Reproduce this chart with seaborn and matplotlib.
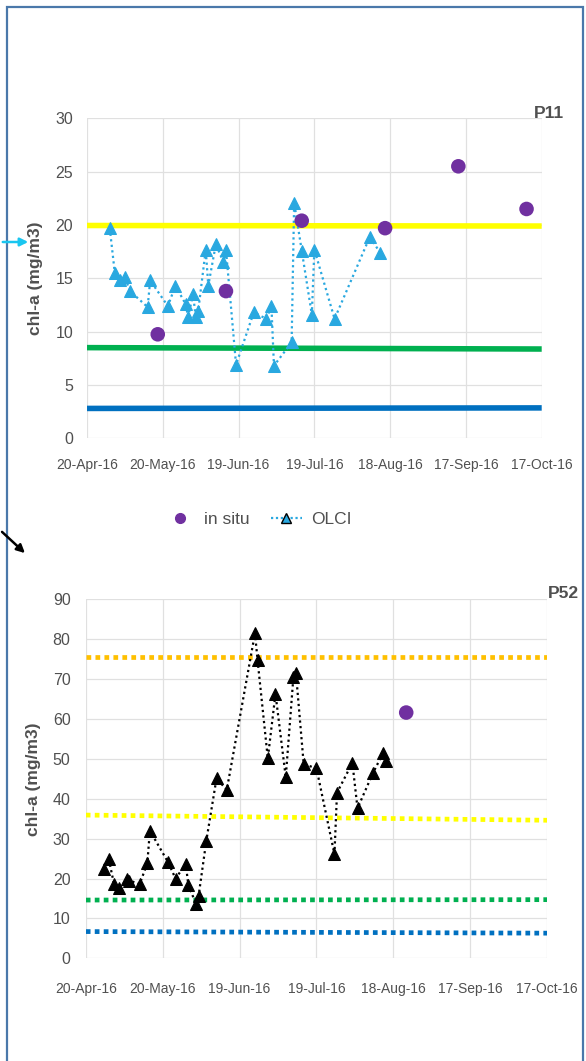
import pandas as pd
import seaborn as sns
import matplotlib.pyplot as plt
import matplotlib.dates as mdates
from matplotlib.lines import Line2D
from matplotlib.patches import Rectangle, FancyArrowPatch

# P11 - OLCI retrievals
p11_olci_dates = ["2016-04-29", "2016-05-01", "2016-05-03", "2016-05-05", "2016-05-07",
                  "2016-05-14", "2016-05-15", "2016-05-22", "2016-05-25", "2016-05-29",
                  "2016-05-30", "2016-06-01", "2016-06-02", "2016-06-03", "2016-06-06",
                  "2016-06-07", "2016-06-10", "2016-06-13", "2016-06-14", "2016-06-18",
                  "2016-06-25", "2016-06-30", "2016-07-02", "2016-07-03", "2016-07-10",
                  "2016-07-11", "2016-07-14", "2016-07-18", "2016-07-19", "2016-07-27",
                  "2016-08-10", "2016-08-14"]
p11_olci_vals = [19.7, 15.5, 14.8, 15.1, 13.8, 12.3, 14.8, 12.4, 14.3, 12.6,
                 11.4, 13.5, 11.4, 11.9, 17.7, 14.3, 18.2, 16.5, 17.7, 6.9,
                 11.8, 11.2, 12.4, 6.8, 9.0, 22.1, 17.6, 11.6, 17.7, 11.2,
                 18.9, 17.4]
p11_insitu_dates = ["2016-05-18", "2016-06-14", "2016-07-14", "2016-08-16", "2016-09-14", "2016-10-11"]
p11_insitu_vals = [9.75, 13.8, 20.4, 19.7, 25.5, 21.5]
# threshold lines (start, end)
p11_yellow = [19.95, 19.9]
p11_green = [8.5, 8.37]
p11_blue = [2.8, 2.85]

# P52 - OLCI retrievals
p52_olci_dates = ["2016-04-27", "2016-04-29", "2016-05-01", "2016-05-03", "2016-05-06",
                  "2016-05-07", "2016-05-11", "2016-05-14", "2016-05-15", "2016-05-22",
                  "2016-05-25", "2016-05-29", "2016-05-30", "2016-06-02", "2016-06-03",
                  "2016-06-06", "2016-06-10", "2016-06-14", "2016-06-25", "2016-06-26",
                  "2016-06-30", "2016-07-03", "2016-07-07", "2016-07-10", "2016-07-11",
                  "2016-07-14", "2016-07-19", "2016-07-26", "2016-07-27", "2016-08-02",
                  "2016-08-04", "2016-08-10", "2016-08-14", "2016-08-15"]
p52_olci_vals = [22.3, 24.8, 18.6, 17.5, 19.8, 19.5, 18.6, 23.8, 32.0, 24.2,
                 20.0, 23.6, 18.4, 13.6, 15.6, 29.4, 45.1, 42.2, 81.5, 74.8,
                 50.1, 66.3, 45.4, 70.6, 71.4, 48.7, 47.6, 26.1, 41.5, 49.0,
                 37.6, 46.4, 51.5, 49.5]
p52_insitu_dates = ["2016-08-23"]
p52_insitu_vals = [61.6]
p52_orange = [75.6, 75.6]
p52_yellow = [35.9, 34.6]
p52_green = [14.6, 14.7]
p52_blue = [6.7, 6.3]

x_start, x_end = pd.Timestamp("2016-04-20"), pd.Timestamp("2016-10-17")
ticks = pd.date_range(x_start, periods=7, freq="30D")

sns.set_style("whitegrid")
plt.rcParams["font.family"] = ["Liberation Sans Narrow", "Liberation Sans", "DejaVu Sans"]

GRAY = "#505050"
PURPLE = "#7030a0"
CYAN = "#29a8e0"

fig = plt.figure(figsize=(5.86, 10.61), dpi=100)


def style_axes(ax, ymax, ystep, xpad, ypad):
    ax.set_xlim(x_start, x_end)
    ax.set_ylim(0, ymax)
    ax.set_yticks(range(0, ymax + 1, ystep))
    ax.set_xticks(ticks)
    ax.xaxis.set_major_formatter(mdates.DateFormatter("%d-%b-%y"))
    ax.grid(True, color="#e0e0e0", linewidth=0.9)
    for s in ax.spines.values():
        s.set_visible(False)
    ax.tick_params(axis="x", labelsize=10, colors=GRAY, pad=xpad, length=0)
    ax.tick_params(axis="y", labelsize=11.5, colors=GRAY, pad=ypad, length=0)
    ax.set_xlabel("")
    ax.set_ylabel("chl-a (mg/m3)", color=GRAY, fontsize=12.5, fontweight="bold")
    ax.yaxis.set_label_coords(-0.097, 0.5)


def hline(ax, vals, color, lw, dotted):
    ls = (0, (1, 0.9)) if dotted else "-"
    ax.plot([x_start, x_end], vals, color=color, linewidth=lw, linestyle=ls,
            solid_capstyle="butt", dash_capstyle="butt", zorder=2)


# ---- P11 ----
ax1 = fig.add_axes([0.1485, 0.5869, 0.7759, 0.3016])
hline(ax1, p11_yellow, "#ffff00", 4.0, False)
hline(ax1, p11_green, "#00b050", 4.0, False)
hline(ax1, p11_blue, "#0070c0", 4.0, False)
sns.lineplot(x=pd.to_datetime(p11_olci_dates), y=p11_olci_vals, ax=ax1, color=CYAN,
             linestyle=(0, (1, 1.5)), linewidth=1.6, marker="^", markersize=8,
             markeredgecolor=CYAN, markerfacecolor=CYAN, zorder=3)
sns.scatterplot(x=pd.to_datetime(p11_insitu_dates), y=p11_insitu_vals, ax=ax1,
                color=PURPLE, s=110, edgecolor="none", zorder=4)
style_axes(ax1, 30, 5, 14, 10)
fig.text(549 / 586, 1 - 114 / 1061, "P11", ha="center", va="center",
         fontsize=12.5, fontweight="bold", color=GRAY)

# ---- P52 ----
ax2 = fig.add_axes([0.1464, 0.0968, 0.7874, 0.3384])
hline(ax2, p52_orange, "#ffc000", 3.4, True)
hline(ax2, p52_yellow, "#ffff00", 3.4, True)
hline(ax2, p52_green, "#00b050", 3.4, True)
hline(ax2, p52_blue, "#0070c0", 3.4, True)
sns.lineplot(x=pd.to_datetime(p52_olci_dates), y=p52_olci_vals, ax=ax2, color="black",
             linestyle=(0, (1, 1.5)), linewidth=1.6, marker="^", markersize=8,
             markeredgecolor="black", markerfacecolor="black", zorder=3)
sns.scatterplot(x=pd.to_datetime(p52_insitu_dates), y=p52_insitu_vals, ax=ax2,
                color=PURPLE, s=110, edgecolor="none", zorder=4)
style_axes(ax2, 90, 10, 17, 11)
fig.text(563 / 586, 1 - 593 / 1061, "P52", ha="center", va="center",
         fontsize=12.5, fontweight="bold", color=GRAY)

# legend between the panels
handles = [
    Line2D([], [], linestyle="none", marker="o", markersize=7, color=PURPLE),
    Line2D([], [], linestyle=(0, (1, 1.2)), linewidth=1.6, color=CYAN, marker="^",
           markersize=7, markerfacecolor=CYAN, markeredgecolor="black"),
]
fig.legend(handles, ["in situ", "OLCI"], loc="center", bbox_to_anchor=(0.44, 0.51),
           ncol=2, frameon=False, fontsize=12.5, labelcolor=GRAY, handlelength=1.8,
           columnspacing=1.2, handletextpad=0.5)

# frame and arrows
fig.patches.append(Rectangle((7 / 586, -0.01), 576 / 586, 1.01 - 7 / 1061,
                             transform=fig.transFigure, fill=False,
                             edgecolor="#4a78aa", linewidth=1.6))
fig.patches.append(FancyArrowPatch((0.0, 1 - 242 / 1061), (31 / 586, 1 - 242 / 1061),
                                   transform=fig.transFigure, arrowstyle="-|>",
                                   mutation_scale=12, color="#19c6f0", linewidth=1.8))
fig.patches.append(FancyArrowPatch((0.0, 1 - 530 / 1061), (27 / 586, 1 - 555 / 1061),
                                   transform=fig.transFigure, arrowstyle="-|>",
                                   mutation_scale=12, color="black", linewidth=1.8))

fig.savefig("out.png", dpi=100)
